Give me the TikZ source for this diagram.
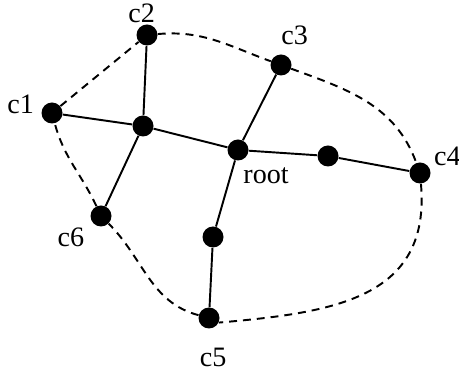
\documentclass[tikz,border=0pt]{standalone}
\usepackage{fontspec}
\setmainfont{Liberation Serif}

\begin{document}
\begin{tikzpicture}[
  dot/.style={circle, fill=black, inner sep=0pt, minimum size=0.42cm},
  lbl/.style={font=\fontsize{16}{19}\selectfont, inner sep=0pt, anchor=center},
  edge/.style={line width=1.1pt},
  hull/.style={line width=1.1pt, dash pattern=on 4.5pt off 3.4pt}]

  \useasboundingbox (0,0) rectangle (9.18,7.42);

  % terminals
  \node[dot, label={[lbl, label distance=0.43cm]165:c1}] (c1) at (1.04,5.16) {};
  \node[dot, label={[lbl, label distance=0.23cm]104:c2}] (c2) at (2.94,6.72) {};
  \node[dot, label={[lbl, label distance=0.43cm]65:c3}] (c3) at (5.62,6.12) {};
  \node[dot, label={[lbl, label distance=0.42cm]31:c4}] (c4) at (8.40,3.96) {};
  \node[dot, label={[lbl, label distance=0.57cm]-84:c5}] (c5) at (4.18,1.06) {};
  \node[dot, label={[lbl, label distance=0.52cm]215:c6}] (c6) at (2.02,3.10) {};

  % steiner points
  \node[dot, label={[lbl, label distance=0.55cm]-43:root}] (root) at (4.76,4.42) {};
  \node[dot] (s1) at (2.86,4.90) {};
  \node[dot] (s2) at (6.56,4.30) {};
  \node[dot] (s3) at (4.26,2.68) {};

  % tree
  \draw[edge] (c1) -- (s1) -- (root) -- (s2) -- (c4);
  \draw[edge] (c2) -- (s1) -- (c6);
  \draw[edge] (c3) -- (root) -- (s3) -- (c5);

  % hull
  \draw[hull] (c1) -- (c2) to[out=5, in=160] (c3) to[out=-20, in=110] (c4)
    to[out=-85, in=5, looseness=1.2] (c5.-25);
  \draw[hull] (c5) to[out=165, in=-45] (c6) to[out=115, in=-75] (c1);
\end{tikzpicture}
\end{document}
